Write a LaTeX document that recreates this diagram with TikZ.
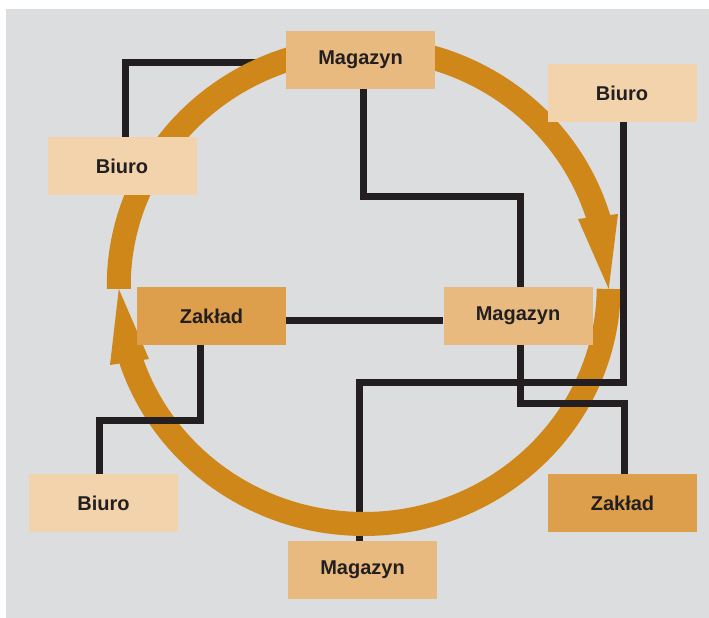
\documentclass[tikz,border=0pt]{standalone}
\usepackage{fontspec}
\setmainfont{Liberation Sans}
\pgfdeclarelayer{back}
\pgfdeclarelayer{lower}
\pgfdeclarelayer{ringl}
\pgfdeclarelayer{upper}
\pgfsetlayers{back,lower,ringl,upper,main}
\definecolor{bgray}{HTML}{DCDDDF}
\definecolor{cbiuro}{HTML}{F2D3AC}
\definecolor{cmag}{HTML}{E8BA7F}
\definecolor{czak}{HTML}{DD9F4B}
\definecolor{ringc}{HTML}{D0871A}
\definecolor{linec}{HTML}{231F20}
\tikzset{
  box/.style={minimum width=149pt, minimum height=58pt, inner sep=0pt,
    font=\bfseries\fontsize{20}{24}\selectfont, text=linec},
  biuro/.style={box, fill=cbiuro},
  magbox/.style={box, fill=cmag},
  zakbox/.style={box, fill=czak},
  conn/.style={draw=linec, line width=7pt, line join=miter},
  ringline/.style={draw=ringc, line width=24pt},
  ringhead/.style={fill=ringc}
}
\begin{document}
\begin{tikzpicture}[x=1pt,y=1pt]
\useasboundingbox (0,0) rectangle (709,618);
\begin{pgfonlayer}{back}
  \fill[bgray] (6,0) rectangle (709,609);
\end{pgfonlayer}

% nodes
\node[magbox] (mt)  at (360.5,558) {Magazyn};
\node[biuro]  (btr) at (622,525)   {Biuro};
\node[biuro]  (bl)  at (122,452)   {Biuro};
\node[zakbox] (zm)  at (211.5,302) {Zakład};
\node[magbox] (mm)  at (518,302)   {Magazyn};
\node[biuro]  (bbl) at (103.5,115) {Biuro};
\node[zakbox] (zbr) at (622.5,115) {Zakład};
\node[magbox] (mb)  at (362.5,48)  {Magazyn};

\coordinate (ecorn) at (359.5,235.5);

% connectors under the ring
\begin{pgfonlayer}{lower}
  \draw[conn] ([xshift=3.5pt]bl.north) |- ([yshift=-2.5pt]mt.west);
  \draw[conn] ([xshift=1.5pt]btr.south) |- (ecorn) -- ([xshift=-3pt]mb.north);
\end{pgfonlayer}

% ring with arrowheads
\begin{pgfonlayer}{ringl}
  \draw[ringline] (118.77,329.1) arc[start angle=180.7, end angle=15.5, x radius=245, y radius=238];
  \fill[ringhead] (608.7,329) -- (578,399) -- (618,404) -- cycle;
  \draw[ringline] (608.73,329.1) arc[start angle=-0.7, end angle=-163.5, x radius=245, y radius=238];
  \fill[ringhead] (118.8,329) -- (110,253) -- (149,259) -- cycle;
\end{pgfonlayer}

% connectors over the ring
\begin{pgfonlayer}{upper}
  \draw[conn] ([xshift=3.2pt]mt.south) -- ++(0,-107.3) -| ([xshift=2.3pt]mm.north);
  \draw[conn] ([yshift=-4.5pt]zm.east) -- ([yshift=-4.5pt]mm.west);
  \draw[conn] ([xshift=-11.5pt]zm.south) -- ++(0,-75) -| ([xshift=-4.5pt]bbl.north);
  \draw[conn] ([xshift=1.5pt]btr.south) |- (ecorn);
  \draw[conn] ([xshift=2pt]mm.south) -- ++(0,-58) -| ([xshift=2pt]zbr.north);
\end{pgfonlayer}
\end{tikzpicture}
\end{document}
